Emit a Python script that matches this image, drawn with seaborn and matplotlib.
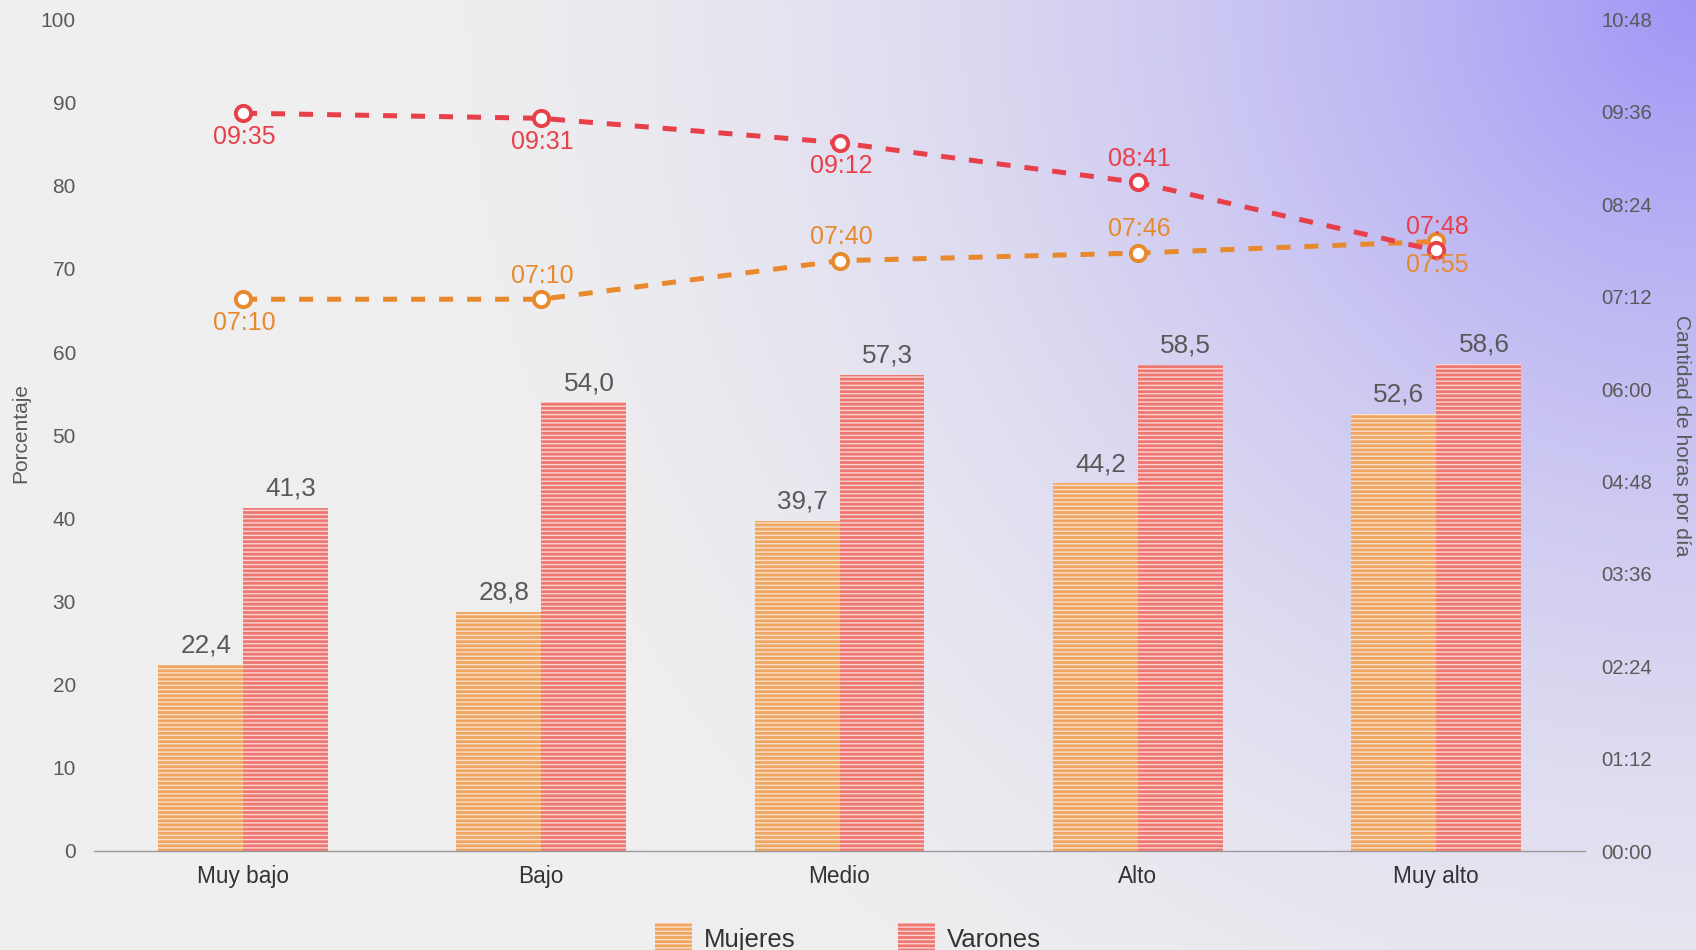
import numpy as np
import pandas as pd
import matplotlib
matplotlib.use("Agg")
import matplotlib.pyplot as plt
import seaborn as sns
from matplotlib.patches import Patch

# ---------------- data ----------------
categorias = ["Muy bajo", "Bajo", "Medio", "Alto", "Muy alto"]
series = ["Mujeres", "Varones"]
mujeres_pct = [22.4, 28.8, 39.7, 44.2, 52.6]
varones_pct = [41.3, 54.0, 57.3, 58.5, 58.6]
mujeres_horas = ["07:10", "07:10", "07:40", "07:46", "07:55"]
varones_horas = ["09:35", "09:31", "09:12", "08:41", "07:48"]
pct_ticks = [0, 10, 20, 30, 40, 50, 60, 70, 80, 90, 100]
hora_ticks = ["00:00", "01:12", "02:24", "03:36", "04:48", "06:00",
              "07:12", "08:24", "09:36", "10:48"]
# label placement of the time annotations (+1 above, -1 below)
mujeres_lbl_pos = [-1, 1, 1, 1, -1]
varones_lbl_pos = [-1, -1, -1, 1, 1]


def to_min(s):
    h, m = s.split(":")
    return int(h) * 60 + int(m)


df = pd.DataFrame({
    "nivel": categorias * 2,
    "pct": mujeres_pct + varones_pct,
    "sexo": [series[0]] * len(categorias) + [series[1]] * len(categorias),
})

# ---------------- style ----------------
sns.set_theme(style="white")
plt.rcParams["font.family"] = ["Liberation Sans", "DejaVu Sans"]
plt.rcParams["hatch.linewidth"] = 1.0

col_m = "#f0a660"
col_v = "#f07672"
hatch_m = "#f9e0cc"
hatch_v = "#f8d6d4"
line_m = "#e8892e"
line_v = "#e8404a"
txt = "#595959"

W, H = 1696, 950
fig = plt.figure(figsize=(W / 100, H / 100), dpi=100)

# background gradient (grey -> lavender at top-right)
gy, gx = np.mgrid[0:H:4, 0:W:4]
r = np.sqrt((W - gx) ** 2 + gy.astype(float) ** 2)
t = np.clip(1 - r / 1350, 0, 1) ** 1.8
grey = np.array([239, 239, 239]) / 255
purp = np.array([160, 150, 246]) / 255
img = grey[None, None, :] * (1 - t[..., None]) + purp[None, None, :] * t[..., None]
bg = fig.add_axes([0, 0, 1, 1], zorder=-10)
bg.imshow(img, aspect="auto", extent=[0, 1, 0, 1], origin="upper", interpolation="bicubic")
bg.axis("off")

ax_w = 1585 - 94
ax = fig.add_axes([94 / W, 1 - 851 / H, ax_w / W, (851 - 19.5) / H])
ax.set_facecolor("none")

sns.barplot(data=df, x="nivel", y="pct", hue="sexo", order=categorias,
            hue_order=series, palette=[col_m, col_v], width=0.57,
            saturation=1, legend=False, ax=ax)

for cont, hc, vals in zip(ax.containers, [hatch_m, hatch_v], [mujeres_pct, varones_pct]):
    for p, v in zip(cont, vals):
        p.set_hatch("----")
        p.set_edgecolor(hc)
        p.set_linewidth(0)
        ax.annotate(f"{v:.1f}".replace(".", ","),
                    (p.get_x() + p.get_width() / 2, p.get_height()),
                    xytext=(4, 5), textcoords="offset points",
                    ha="center", va="bottom", fontsize=18.8, color=txt)

ax.set_ylim(0, 100)
ax.set_xlim(-0.5, len(categorias) - 0.5)
ax.set_yticks(pct_ticks)
ax.set_yticklabels([str(v) for v in pct_ticks])
ax.tick_params(axis="y", length=0, pad=13, labelsize=15, labelcolor=txt)
ax.tick_params(axis="x", length=0, pad=10, labelsize=16.3, labelcolor="#333333")
ax.set_xlabel("")
ax.set_ylabel("Porcentaje", fontsize=15, color=txt, va="center")
ax.yaxis.set_label_coords(-(94 - 21) / ax_w, 0.503)
for s in ["left", "right", "top"]:
    ax.spines[s].set_visible(False)
ax.spines["bottom"].set_color("#9a9a9a")
ax.spines["bottom"].set_linewidth(1.0)

# ---------------- lines on twin axis ----------------
ax2 = ax.twinx()
ax2.set_facecolor("none")
for horas, lc, pos in [(mujeres_horas, line_m, mujeres_lbl_pos),
                       (varones_horas, line_v, varones_lbl_pos)]:
    mins = [to_min(h) for h in horas]
    sns.lineplot(x=categorias, y=mins, ax=ax2, sort=False, color=lc,
                 linewidth=3.6, linestyle=(0, (2.8, 2.8)), marker="o",
                 markersize=11, markerfacecolor="white", markeredgecolor=lc,
                 markeredgewidth=2.8, legend=False)
    for i, (h, m, p) in enumerate(zip(horas, mins, pos)):
        ax2.annotate(h, (i, m), xytext=(1, 17 * p), textcoords="offset points",
                     ha="center", va="center", color=lc, fontsize=18)

ax2.set_ylim(0, to_min(hora_ticks[-1]))
ax2.set_yticks([to_min(h) for h in hora_ticks])
ax2.set_yticklabels(hora_ticks)
ax2.set_xlim(-0.5, len(categorias) - 0.5)
ax2.tick_params(axis="y", length=0, pad=12, labelsize=14.6, labelcolor=txt)
ax2.set_ylabel("Cantidad de horas por día", fontsize=15, color=txt,
               rotation=270, va="center")
ax2.yaxis.set_label_coords(1 + (1682 - 1585) / ax_w, 0.499)
for s in ["left", "right", "top", "bottom"]:
    ax2.spines[s].set_visible(False)

# ---------------- legend ----------------
handles = [Patch(facecolor=col_m, edgecolor=hatch_m, hatch="----", linewidth=0),
           Patch(facecolor=col_v, edgecolor=hatch_v, hatch="----", linewidth=0)]
fig.legend(handles=handles, labels=series, loc="upper center",
           bbox_to_anchor=(0.5, 40 / H), ncol=2, frameon=False, fontsize=18.5,
           handlelength=1.45, handleheight=1.45, columnspacing=4.0,
           handletextpad=0.45, borderpad=0, labelcolor="#333333")

fig.savefig("out.png", dpi=100)
